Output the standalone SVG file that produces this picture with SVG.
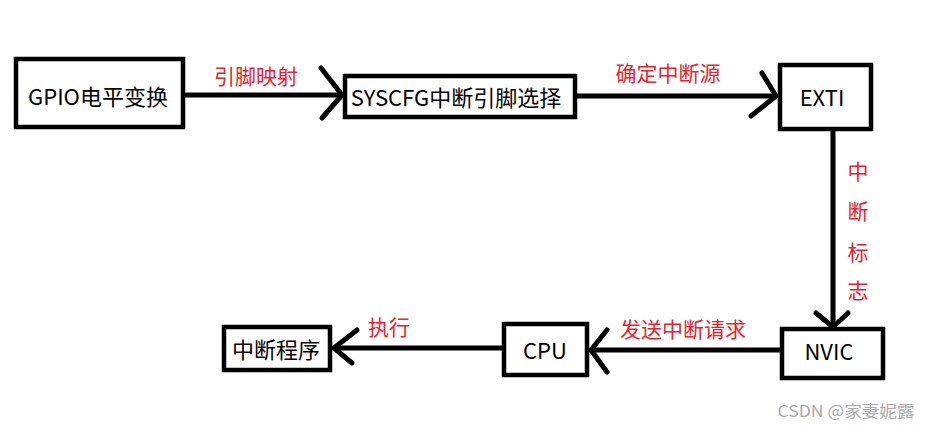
<svg xmlns="http://www.w3.org/2000/svg" width="930" height="428" viewBox="0 0 930 428">
<style>
.box{fill:#fff;stroke:#000;stroke-width:4.5}
.t{font-family:"Noto Sans CJK SC","Liberation Sans",sans-serif;font-size:22px;fill:#000;text-anchor:middle;dominant-baseline:central}
.r{font-family:"Noto Sans CJK SC","Liberation Sans",sans-serif;font-size:21px;fill:#f0202a;text-anchor:middle;dominant-baseline:central}
.ln{fill:none;stroke:#000;stroke-width:5;stroke-linecap:round;stroke-linejoin:round}
.wm{font-family:"Noto Sans CJK SC","Liberation Sans",sans-serif;font-size:16px;fill:#aaa;text-anchor:middle;dominant-baseline:central}
</style>
<rect width="930" height="428" fill="#fff"/>
<g id="connectors">
<line class="ln" x1="185" y1="95" x2="341" y2="95"/>
<polyline class="ln" points="321,68 342,95 322,118"/>
<line class="ln" x1="577" y1="96" x2="776" y2="96"/>
<polyline class="ln" points="762,73 776,96 751,116"/>
<line class="ln" x1="833" y1="131" x2="833" y2="326"/>
<polyline class="ln" points="816,313 833,327 848,313"/>
<line class="ln" x1="780" y1="350" x2="591" y2="350"/>
<polyline class="ln" points="607,330 591,350 607,372"/>
<line class="ln" x1="502" y1="348" x2="334" y2="348"/>
<polyline class="ln" points="357,330 334,348 352,363"/>
<text class="r" x="256" y="75">引脚映射</text>
<text class="r" x="668" y="72">确定中断源</text>
<text class="r" x="858" y="170">中</text>
<text class="r" x="858" y="210">断</text>
<text class="r" x="858" y="251">标</text>
<text class="r" x="858" y="289">志</text>
<text class="r" x="683" y="328">发送中断请求</text>
<text class="r" x="389" y="326">执行</text>
</g>
<g id="gpio"><rect class="box" x="16" y="59" width="167" height="68"/><text class="t" x="98" y="95">GPIO电平变换</text></g>
<g id="syscfg"><rect class="box" x="345" y="76" width="230" height="41"/><text class="t" x="456" y="96">SYSCFG中断引脚选择</text></g>
<g id="exti"><rect class="box" x="780" y="65" width="91" height="64"/><text class="t" x="822" y="96">EXTI</text></g>
<g id="nvic"><rect class="box" x="782" y="329" width="101" height="49"/><text class="t" x="829" y="350">NVIC</text></g>
<g id="cpu"><rect class="box" x="504" y="324" width="83" height="51"/><text class="t" x="545" y="349">CPU</text></g>
<g id="isr"><rect class="box" x="224" y="327" width="106" height="43"/><text class="t" x="276" y="348">中断程序</text></g>
<text class="wm" x="846" y="410" textLength="137" lengthAdjust="spacingAndGlyphs">CSDN @家妻妮露</text>
</svg>
